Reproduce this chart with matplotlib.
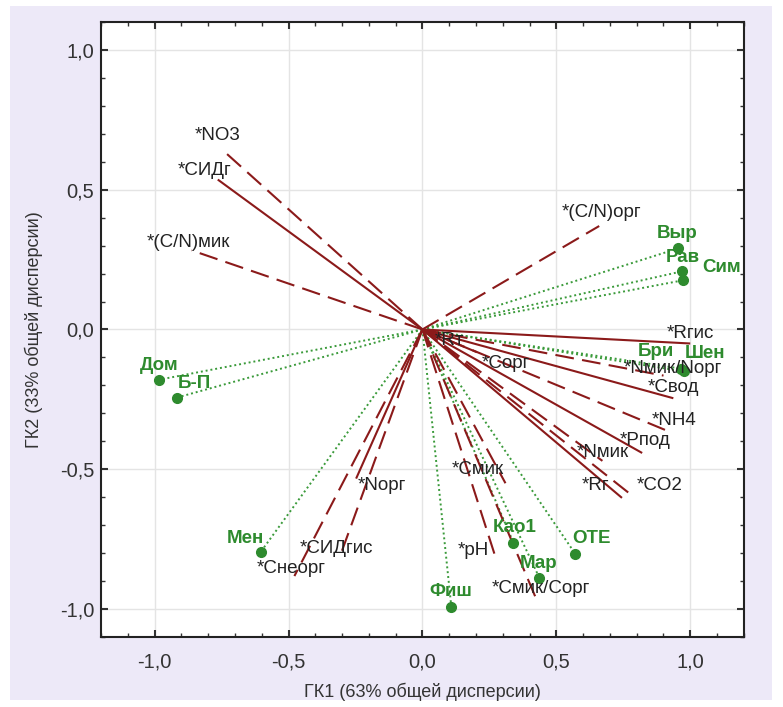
import numpy as np
import matplotlib
matplotlib.use('Agg')
import matplotlib.pyplot as plt
from matplotlib.ticker import MultipleLocator, FuncFormatter
from matplotlib.patches import Rectangle

plt.rcParams['font.family'] = ['Liberation Sans', 'DejaVu Sans']

# переменные (векторы нагрузок)
var_names = ['*NO3', '*СИДг', '*(C/N)мик', '*(C/N)орг', '*Rгис', '*Nмик/Nорг', '*Свод',
             '*NH4', '*Pпод', '*Nмик', '*Rг', '*CO2', '*Сорг', '*Rт', '*Смик', '*pH',
             '*Смик/Сорг', '*Nорг', '*СИДгис', '*Снеорг']
var_x = [-0.75, -0.761, -0.862, 0.66, 0.996, 0.90, 0.933, 0.933, 0.817, 0.672, 0.742,
         0.784, 0.20, 0.06, 0.31, 0.276, 0.425, -0.246, -0.31, -0.478]
var_y = [0.645, 0.534, 0.283, 0.37, -0.05, -0.165, -0.245, -0.37, -0.44, -0.47, -0.60,
         -0.595, -0.08, -0.03, -0.55, -0.824, -0.964, -0.53, -0.817, -0.882]
var_dashed = [1, 0, 1, 1, 0, 1, 0, 1, 0, 1, 0, 1, 0, 0, 1, 1, 1, 0, 1, 1]

# объекты (точки)
obj_names = ['Выр', 'Рав', 'Сим', 'Бри', 'Шен', 'Дом', 'Б-П', 'Мен', 'Фиш', 'Као1', 'Мар', 'ОТЕ']
obj_x = [0.955, 0.97, 0.974, 0.965, 0.975, -0.985, -0.918, -0.604, 0.108, 0.34, 0.437, 0.571]
obj_y = [0.29, 0.208, 0.176, -0.14, -0.15, -0.18, -0.244, -0.796, -0.993, -0.763, -0.889, -0.803]

# смещения подписей (пиксели)
var_off = [(-27, 14), (-41, 10), (-45, 8), (-38, 14), (-23, 10), (-40, 7), (-25, 10),
           (-21, 12), (-22, 12), (-26, 8), (-40, 12), (4, 10), (6, -12), (-4, -3),
           (-54, 14), (-39, 9), (-45, 10), (1, -8), (-40, 9), (-38, 8)]
obj_off = [(-21, 15), (-16, 14), (19, 13), (-43, 17), (1, 18), (-19, 14), (1, 14),
           (-34, 14), (-22, 16), (-21, 15), (-20, 15), (-3, 15)]

red = '#8b1a1a'
green = '#2e8b2e'

fig = plt.figure(figsize=(7.83, 7.07), dpi=100)
fig.patch.set_facecolor('white')
fig.patches.append(Rectangle((0.013, 0.01), 0.973, 0.982, transform=fig.transFigure,
                             facecolor='#ede9f8', edgecolor='none', zorder=-10))
ax = fig.add_axes([0.129, 0.099, 0.821, 0.870])
ax.set_facecolor('white')

for x, y in zip(obj_x, obj_y):
    ax.plot([0, x], [0, y], color='#3a9a3a', lw=1.4, ls=(0, (1, 1.5)), zorder=2)
for x, y, d in zip(var_x, var_y, var_dashed):
    if d:
        ax.plot([0, x], [0, y], color=red, lw=1.5, ls=(0, (9, 4)), zorder=3)
    else:
        ax.plot([0, x], [0, y], color=red, lw=1.5, zorder=3)
ax.plot(obj_x, obj_y, 'o', color=green, ms=7, zorder=4)

for n, x, y, o in zip(var_names, var_x, var_y, var_off):
    ax.annotate(n, (x, y), xytext=o, textcoords='offset pixels', ha='left', va='center',
                fontsize=13.5, color='#222222', zorder=5)
for n, x, y, o in zip(obj_names, obj_x, obj_y, obj_off):
    ax.annotate(n, (x, y), xytext=o, textcoords='offset pixels', ha='left', va='center',
                fontsize=13.5, color=green, fontweight='bold', zorder=5)

ax.set_xlim(-1.2, 1.2)
ax.set_ylim(-1.1, 1.1)
ax.xaxis.set_major_locator(MultipleLocator(0.5))
ax.yaxis.set_major_locator(MultipleLocator(0.5))
ax.xaxis.set_minor_locator(MultipleLocator(0.1))
ax.yaxis.set_minor_locator(MultipleLocator(0.1))
fmt = FuncFormatter(lambda v, p: ('%.1f' % v).replace('.', ',').replace('-0,0', '0,0'))
ax.xaxis.set_major_formatter(fmt)
ax.yaxis.set_major_formatter(fmt)
ax.tick_params(which='both', direction='in', top=True, right=True, labelsize=14.5,
               colors='#333333')
ax.tick_params(axis='x', pad=11)
ax.tick_params(axis='y', pad=5)
ax.tick_params(which='major', length=5, width=1.5)
ax.tick_params(which='minor', length=3, width=1)
ax.grid(True, which='major', color='#e4e4e4', lw=1)
ax.set_axisbelow(True)
for s in ax.spines.values():
    s.set_linewidth(1.5)
    s.set_color('#222222')

ax.set_xlabel('ГК1 (63% общей дисперсии)', fontsize=13, color='#333333', labelpad=8)
ax.set_ylabel('ГК2 (33% общей дисперсии)', fontsize=13, color='#333333', labelpad=12)

fig.savefig('out.png', dpi=100, facecolor=fig.get_facecolor())
